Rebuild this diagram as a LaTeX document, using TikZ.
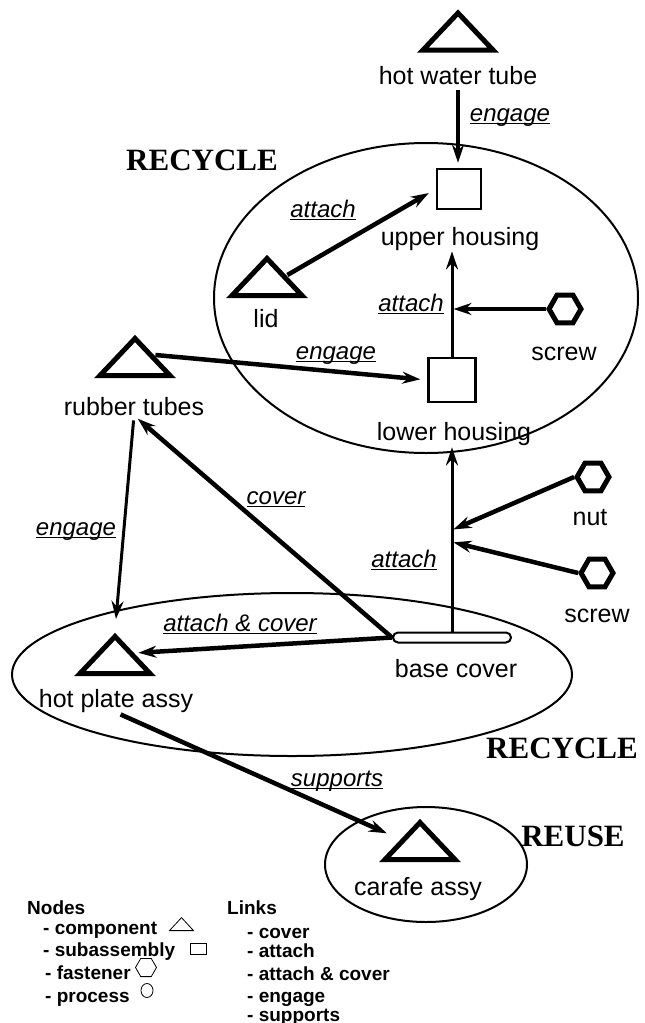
\documentclass[tikz,border=0pt]{standalone}
\usepackage{fontspec}
\setmainfont{Liberation Sans}
\newfontfamily\capsfont{Liberation Serif}
\usetikzlibrary{arrows.meta, shapes.geometric, shapes.misc}
\newcommand\lnk[1]{\setbox0\hbox{#1}\rlap{\rule[-2.5pt]{\wd0}{0.9pt}}\box0}

\begin{document}
\begin{tikzpicture}[x=1pt, y=-1pt,
            part/.style={draw, line width=5pt, isosceles triangle, isosceles triangle stretches, shape border rotate=90, minimum width=70pt, minimum height=37pt, inner sep=0pt, anchor=lower side},
            sub/.style={draw, line width=2.5pt, rectangle, inner sep=0pt},
            fast/.style={draw, line width=5pt, regular polygon, regular polygon sides=6, minimum size=32pt, inner sep=0pt},
            txt/.style={font=\fontsize{25}{25}\selectfont, inner sep=0pt, anchor=base},
            lbl/.style={font=\fontsize{24}{24}\selectfont\itshape, inner sep=0pt, anchor=base},
            grp/.style={font=\fontsize{31}{31}\selectfont\capsfont\bfseries, inner sep=0pt, anchor=base},
            key/.style={font=\fontsize{19}{19}\selectfont\bfseries, inner sep=0pt, anchor=base west},
            keyshape/.style={draw, line width=0.8pt, inner sep=0pt},
            link/.style={line width=4.5pt, -{Stealth[length=18pt,width=12pt,inset=6pt]}},
            thin link/.style={link, line width=3pt}]
            \useasboundingbox (0,0) rectangle (645,1023);
            \draw[line width=2pt] (426,298) ellipse [x radius=212pt, y radius=155pt];
            \draw[line width=2pt] (292,674.5) ellipse [x radius=280pt, y radius=81.5pt];
            \draw[line width=2pt] (426,864.5) ellipse [x radius=101pt, y radius=57.5pt];
            \node[part] (hwt) at (458,52.5) {};
            \node[part] (lid) at (267,298) {};
            \node[part] (rt) at (135,378) {};
            \node[part] (hp) at (115,676) {};
            \node[part] (ca) at (420,862) {};
            \node[sub, minimum width=44pt, minimum height=40pt] (uh) at (459,189) {};
            \node[sub, minimum width=47pt, minimum height=44pt] (lh) at (452,380) {};
            \node[fast] (scr1) at (565,309) {};
            \node[fast] (nut) at (593,477) {};
            \node[fast] (scr2) at (597,573) {};
            \node[draw, line width=2pt, rounded rectangle, minimum width=118pt, minimum height=10pt, inner sep=0pt] (bc) at (452,637.5) {};
            \node[txt] (hwtt) at (458,84) {hot water tube};
            \node[txt] (uht) at (460,245) {upper housing};
            \node[txt] (lidt) at (266,327) {lid};
            \node[txt] (scr1t) at (564,360) {screw};
            \node[txt] (lht) at (454,440) {lower housing};
            \node[txt] (nutt) at (590,525) {nut};
            \node[txt] (scr2t) at (597,622) {screw};
            \node[txt] (rtt) at (134,415) {rubber tubes};
            \node[txt] (bct) at (456,677) {base cover};
            \node[txt] (hpt) at (116,707) {hot plate assy};
            \node[txt] (cat) at (418,895) {carafe assy};
            \node[grp] (rc1) at (202,170) {RECYCLE};
            \node[grp] (rc2) at (562,758) {RECYCLE};
            \node[grp] (ru) at (573,846) {REUSE};
            \coordinate (j1) at (lh.north |- scr1.west);
            \coordinate (j2) at (452,530);
            \coordinate (j3) at (452,542);
            \draw[link, shorten <=6pt, shorten >=5pt] (hwtt.south) -- (hwtt.south |- uh.north);
            \draw[link, shorten >=8pt] (lid.right side) -- (uh.west);
            \draw[thin link, shorten >=1pt] (lh.north) -- (lh.north |- uht.south);
            \draw[link, shorten >=1.5pt] (scr1.west) -- (j1);
            \draw[link, shorten >=7pt] (rt.right side) -- (lh.west);
            \draw[link, shorten >=5pt] (bc.west) -- (rtt.south);
            \draw[thin link, shorten <=5pt, shorten >=11pt] (rtt.south) -- (hp.apex);
            \draw[link, shorten >=3pt] (bc.west) -- (hp.right side);
            \draw[thin link, shorten >=2pt] (bc.north) -- (bc.north |- lht.south);
            \draw[link, shorten >=1.5pt] (nut.west) -- (j2);
            \draw[link, shorten >=1.5pt] (scr2.west) -- (j3);
            \draw[link, shorten <=5pt, shorten >=14pt] (hpt.south) -- (ca.left side);
            \node[lbl] (l1) at (510,121) {\lnk{engage}};
            \node[lbl] (l2) at (323,217) {\lnk{attach}};
            \node[lbl] (l3) at (411,311) {\lnk{attach}};
            \node[lbl] (l4) at (336,359) {\lnk{engage}};
            \node[lbl] (l5) at (276,504) {\lnk{cover}};
            \node[lbl] (l6) at (76,535) {\lnk{engage}};
            \node[lbl] (l7) at (404,567) {\lnk{attach}};
            \node[lbl] (l8) at (240,631) {\lnk{attach \& cover}};
            \node[lbl] (l9) at (337,786) {\lnk{supports}};
            \node[key] (kn) at (27,914) {Nodes};
            \node[key] (k1) at (43,934) {- component};
            \node[key] (k2) at (43,956) {- subassembly};
            \node[key] (k3) at (45,979) {- fastener};
            \node[key] (k4) at (45,1002) {- process};
            \node[key] (kl) at (227,914) {Links};
            \node[key] (k5) at (247,938) {- cover};
            \node[key] (k6) at (247,957) {- attach};
            \node[key] (k7) at (247,980) {- attach \& cover};
            \node[key] (k8) at (247,1002) {- engage};
            \node[key] (k9) at (247,1021) {- supports};
            \node[keyshape, isosceles triangle, isosceles triangle stretches, shape border rotate=90, minimum width=24pt, minimum height=13pt, anchor=lower side] (kt) at (181.5,931) {};
            \node[keyshape, minimum width=16pt, minimum height=11pt] (ks) at (198,948.5) {};
            \node[keyshape, regular polygon, regular polygon sides=6, minimum size=21pt] (kf) at (146,967.5) {};
            \node[keyshape, ellipse, minimum width=12pt, minimum height=14pt] (kp) at (147,990.5) {};
\end{tikzpicture}
\end{document}
